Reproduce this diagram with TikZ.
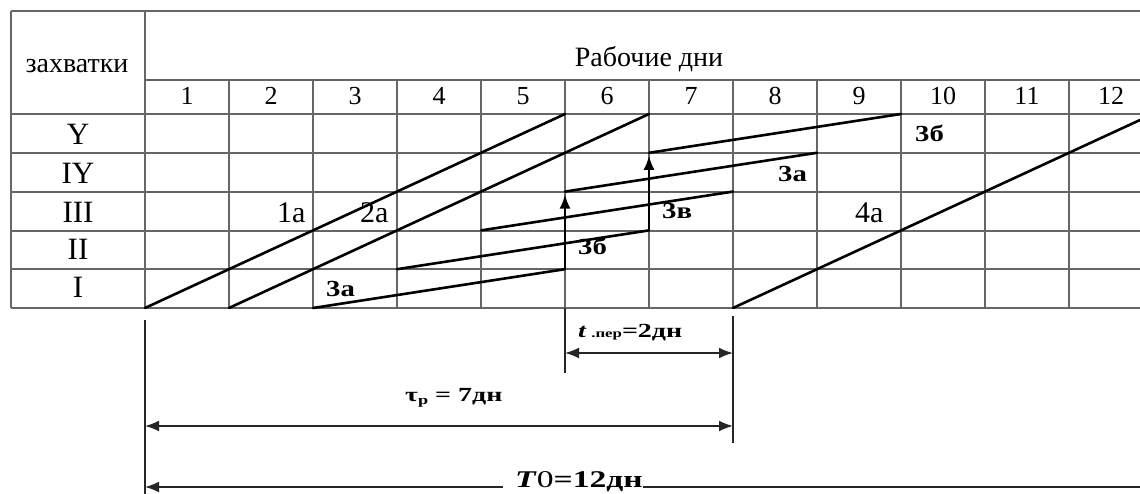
\documentclass[tikz,border=0pt]{standalone}
\usepackage{fontspec}
\setmainfont{Liberation Serif}
\usetikzlibrary{arrows.meta}
\newcommand{\wide}[1]{\scalebox{1.4}[1]{#1}}
\newcommand{\widec}[1]{\scalebox{1.25}[1]{#1}}
\begin{document}
\begin{tikzpicture}[x=1pt,y=-1pt,
  gridline/.style={draw=black!60, line width=1.3pt},
  work/.style={draw=black, line width=2.6pt, line cap=round},
  uparrow/.style={draw=black, line width=2pt, -{Latex[length=14pt,width=11pt]}},
  dimline/.style={draw=black!85, line width=1.6pt},
  dimarrow/.style={draw=black!85, line width=1.8pt, {Latex[length=14pt,width=11pt]}-{Latex[length=14pt,width=11pt]}},
  dimarrowL/.style={draw=black!85, line width=1.8pt, {Latex[length=14pt,width=11pt]}-},
  rowlab/.style={inner sep=0pt, anchor=base, font=\fontsize{31}{31}\selectfont},
  numlab/.style={inner sep=0pt, anchor=base, font=\fontsize{26}{26}\selectfont},
  headlab/.style={inner sep=0pt, anchor=base, font=\fontsize{28}{28}\selectfont},
  biglab/.style={inner sep=0pt, anchor=base west, font=\fontsize{30}{30}\selectfont},
  boldlab/.style={inner sep=0pt, anchor=base west, font=\bfseries\fontsize{23}{23}\selectfont},
  dimlab/.style={inner sep=0pt, anchor=base west, font=\bfseries\fontsize{20}{20}\selectfont}
]
\useasboundingbox (0,0) rectangle (1140,494);
\fill[white] (0,0) rectangle (1140,494);

% grid coordinates: day boundary d, level l
\foreach \d in {0,...,13}{
  \foreach \l in {0,...,5}{
    \coordinate (g\d-\l) at ({145+84*\d},{308-38.8*\l});
  }
}

% ---- table ----
\draw[gridline] (11,11) -- (1150,11);
\draw[gridline] (11,11) -- (11,308);
\draw[gridline] (145,11) -- (145,308);
\draw[gridline] (145,80) -- (1150,80);
\draw[gridline] (11,114) -- (1150,114);
\foreach \yy in {153,192,231,269}{\draw[gridline] (11,\yy) -- (1150,\yy);}
\draw[gridline] (11,308) -- (1150,308);
\foreach \d in {1,...,11}{\draw[gridline] ({145+84*\d},80) -- ({145+84*\d},308);}

% header texts
\node[headlab] (zah) at (77,73) {захватки};
\node[headlab] (days) at (649,67) {Рабочие дни};
\foreach \i in {1,...,12}{\node[numlab] (n\i) at ({103+84*\i},105) {\i};}

% row labels
\node[rowlab] (rY) at (78,145) {Y};
\node[rowlab] (rIY) at (78,184) {IY};
\node[rowlab] (rIII) at (78,223) {III};
\node[rowlab] (rII) at (78,260) {II};
\node[rowlab] (rI) at (78,298) {I};

% ---- work lines ----
\draw[work] (g0-0) -- (g5-5);
\draw[work] (g1-0) -- (g6-5);
\draw[work] (g7-0) -- (g12-5);
\draw[work] (g2-0) -- (g5-1);
\draw[work] (g3-1) -- (g6-2);
\draw[work] (g4-2) -- (g7-3);
\draw[work] (g5-3) -- (g8-4);
\draw[work] (g6-4) -- (g9-5);
\draw[uparrow] (g5-1) -- ([yshift=-3pt]g5-3);
\draw[uparrow] (g6-2) -- ([yshift=-3pt]g6-4);

% labels in the chart
\node[biglab] (l1a) at (277,223) {1а};
\node[biglab] (l2a) at (360,223) {2а};
\node[biglab] (l4a) at (855,223) {4а};
\node[boldlab] (l3a1) at (326,297) {\widec{3а}};
\node[boldlab] (l3b1) at (578,255) {\widec{3б}};
\node[boldlab] (l3v) at (662,219) {\widec{3в}};
\node[boldlab] (l3a2) at (778,182) {\widec{3а}};
\node[boldlab] (l3b2) at (915,142) {\widec{3б}};

% ---- dimensions ----
\coordinate (e1a) at (145,320); \coordinate (e1b) at (145,494);
\coordinate (e2a) at (565,308); \coordinate (e2b) at (565,373);
\coordinate (e3a) at (733,316); \coordinate (e3b) at (733,443);
\draw[dimline] (e1a) -- (e1b);
\draw[dimline] (e2a) -- (e2b);
\draw[dimline] (e3a) -- (e3b);

\coordinate (tL) at (565,353); \coordinate (tR) at (733,353);
\draw[dimarrow] (tL) -- (tR);
\node[dimlab] (tlab) at (578,337) {\wide{\textit{t}\,{\fontsize{12}{12}\selectfont .пер}=2дн}};

\coordinate (tauL) at (145,426); \coordinate (tauR) at (733,426);
\draw[dimarrow] (tauL) -- (tauR);
\node[dimlab] (taulab) at (405,401) {\wide{τ\raisebox{-3pt}{\fontsize{13}{13}\selectfont р} = 7дн}};

\coordinate (TL) at (145,487); \coordinate (TR) at (1160,487);
\draw[dimarrowL] (TL) -- (TR);
\node[inner sep=0pt, fill=white, anchor=base west, font=\bfseries\fontsize{24}{24}\selectfont] (Tlab) at (503,487) {\hspace*{12pt}\wide{\textit{T}{\mdseries 0}=12дн}};
\end{tikzpicture}
\end{document}
